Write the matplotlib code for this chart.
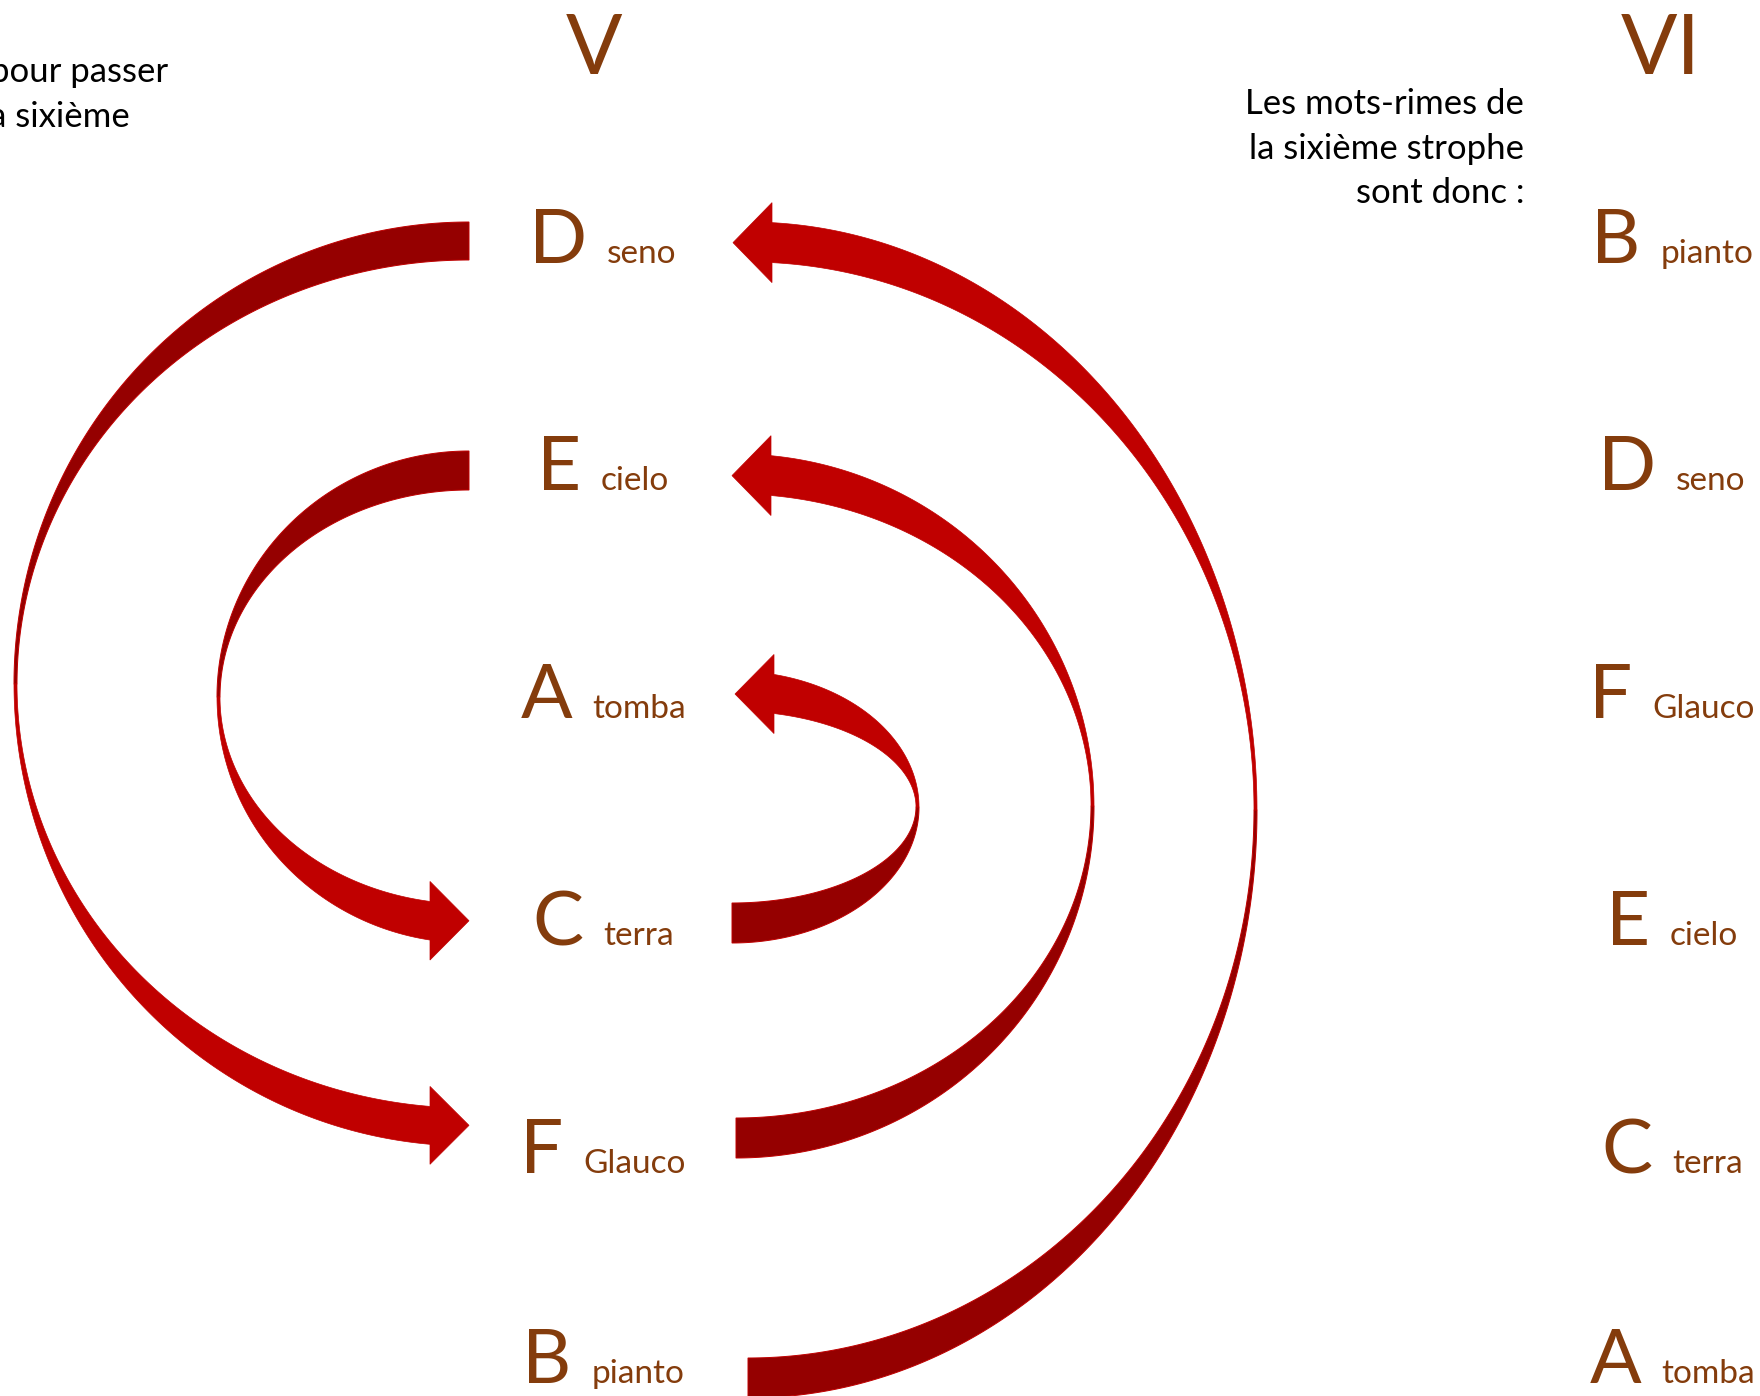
import numpy as np
import matplotlib
matplotlib.use("Agg")
import matplotlib.pyplot as plt
from matplotlib.patches import Polygon

plt.rcParams['font.family'] = ['Lato', 'DejaVu Sans']

# mots-rimes of strophe V and strophe VI (retrogradatio cruciata)
letters_v = ["D", "E", "A", "C", "F", "B"]
words_v = ["seno", "cielo", "tomba", "terra", "Glauco", "pianto"]
letters_vi = ["B", "D", "F", "E", "C", "A"]
words_vi = ["pianto", "seno", "Glauco", "cielo", "terra", "tomba"]

left_note = ["pour passer", "la sixième"]
right_note = ["Les mots-rimes de", "la sixième strophe", "sont donc :"]

BROWN = "#843C0C"
DARK = "#950000"
BRIGHT = "#C00000"

# layout (pixels, y going down)
row_y = [263, 490, 718, 945, 1173, 1383]
col_v, col_vi = 603, 1672

# curved arrows: side (-1 bulge left, +1 bulge right), cx, cy, a, b_outer, b_inner, x of head base
arrows = [
    (-1, 469, 684, 455, 462, 424, 430),
    (-1, 469, 697, 252, 246, 207, 430),
    (1, 748, 810, 509, 588, 548, 772),
    (1, 736, 806, 358, 352, 312, 771),
    (1, 732, 807, 187, 136, 96, 774),
]
HEAD_LEN, HEAD_EXT = 39, 20

fig = plt.figure(figsize=(17.6, 13.96), dpi=100)
ax = fig.add_axes([0, 0, 1, 1])
ax.set_xlim(0, 1760)
ax.set_ylim(1396, 0)
ax.axis("off")


def edge(side, cx, cy, a, b, s):
    return np.column_stack([cx + side * a * np.sin(s), cy + side * b * np.cos(s)])


for side, cx, cy, a, bo, bi, base_x in arrows:
    a_in = a - 3
    s_out = np.pi - np.arcsin(abs(base_x - cx) / a)
    s_in = np.pi - np.arcsin(abs(base_x - cx) / a_in)
    # back half (tail to pinch) in dark red
    s1 = np.linspace(0, np.pi / 2, 200)
    back = np.vstack([edge(side, cx, cy, a, bo, s1), edge(side, cx, cy, a_in, bi, s1)[::-1]])
    ax.add_patch(Polygon(back, closed=True, facecolor=DARK, edgecolor=BRIGHT, lw=0.7))
    # front half (pinch to head) in bright red
    so = np.linspace(np.pi / 2, s_out, 200)
    si = np.linspace(np.pi / 2, s_in, 200)
    outer = edge(side, cx, cy, a, bo, so)
    inner = edge(side, cx, cy, a_in, bi, si)
    yo, yi = outer[-1, 1], inner[-1, 1]
    d = np.sign(yo - yi)
    tip_x = base_x - side * HEAD_LEN
    head = np.array([
        [base_x, yo + d * HEAD_EXT],
        [tip_x, (yo + yi) / 2],
        [base_x, yi - d * HEAD_EXT],
    ])
    front = np.vstack([outer, head, inner[::-1]])
    ax.add_patch(Polygon(front, closed=True, facecolor=BRIGHT, edgecolor=BRIGHT, lw=0.5))

fig.canvas.draw()
renderer = fig.canvas.get_renderer()


def pair(x_center, y, letter, word):
    t1 = ax.text(0, y, letter, fontsize=55, color=BROWN, va="baseline", ha="left")
    t2 = ax.text(0, y, word, fontsize=24, color=BROWN, va="baseline", ha="left")
    w1 = t1.get_window_extent(renderer).width
    w2 = t2.get_window_extent(renderer).width
    gap = 20
    x0 = x_center - (w1 + gap + w2) / 2
    t1.set_x(x0)
    t2.set_x(x0 + w1 + gap)


for y, l, w in zip(row_y, letters_v, words_v):
    pair(col_v, y, l, w)
for y, l, w in zip(row_y, letters_vi, words_vi):
    pair(col_vi, y, l, w)

ax.text(594, 74, "V", fontsize=60, color=BROWN, ha="center", va="baseline")
ax.text(1661, 74, "VI", fontsize=60, color=BROWN, ha="center", va="baseline")

ax.text(168, 82, left_note[0], fontsize=25, color="black", ha="right", va="baseline")
ax.text(130, 127, left_note[1], fontsize=25, color="black", ha="right", va="baseline")
for i, line in enumerate(right_note):
    ax.text(1524, 114 + 44.7 * i, line, fontsize=25, color="black", ha="right", va="baseline")

fig.savefig("out.png", dpi=100)
